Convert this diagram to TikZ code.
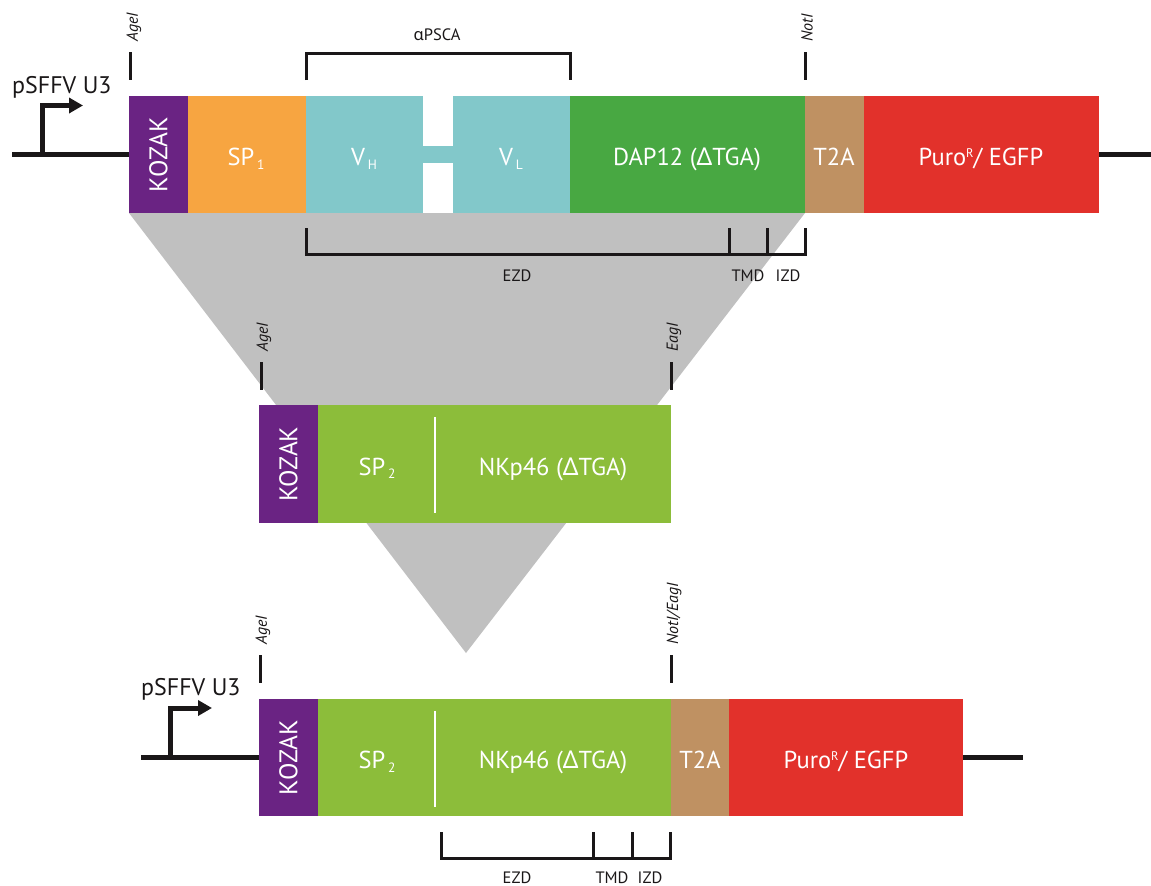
\documentclass[tikz,border=0pt]{standalone}
\usepackage{fontspec}
\setmainfont{PT Sans}
\newfontfamily\grk{Noto Sans}
\usetikzlibrary{arrows.meta}
\definecolor{kozakc}{HTML}{6A2383}
\definecolor{spc}{HTML}{F7A541}
\definecolor{vtealc}{HTML}{82C8CA}
\definecolor{dapc}{HTML}{48A842}
\definecolor{t2ac}{HTML}{BF9162}
\definecolor{puroc}{HTML}{E2312B}
\definecolor{nkc}{HTML}{8CBD3A}
\definecolor{trigray}{HTML}{C0C0C0}
\definecolor{ink}{HTML}{1A1718}
\newcommand\mysub[1]{\hspace{0.12em}\raisebox{-3.5pt}{\fontsize{13.5}{14}\selectfont #1}}
\newcommand\mysup[1]{\raisebox{8.5pt}{\fontsize{12.5}{13}\selectfont #1}}
\begin{document}
\begin{tikzpicture}[x=1pt,y=-1pt,
  box/.style={draw=none,inner sep=0,outer sep=0,anchor=north west},
  btext/.style={text=white,inner sep=0,anchor=base,font=\fontsize{24.5}{26}\selectfont},
  bb/.style={line width=5pt,ink},
  brk/.style={line width=3pt,ink},
  site/.style={font=\fontsize{16}{17}\selectfont\itshape,text=ink,rotate=90,anchor=west,inner sep=0},
  dom/.style={font=\fontsize{16.5}{17}\selectfont,text=ink,anchor=base,inner sep=0},
  prom/.style={font=\fontsize{24}{26}\selectfont,text=ink,anchor=base west,inner sep=0},
  kz/.style={text=white,inner sep=0,font=\fontsize{25.5}{27}\selectfont},
  divl/.style={white,line width=2.5pt}]
\useasboundingbox (0,0) rectangle (1151,886);
% gray funnel
\coordinate (apex) at (466,653);
\fill[trigray] (129,213) -- (805,213) -- (apex) -- cycle;
% ---------------- top row ----------------
\node[box,fill=kozakc,minimum width=59pt,minimum height=117pt] (kz1) at (129,96) {};
\node[box,fill=spc,minimum width=118pt,minimum height=117pt] (sp1) at (188,96) {};
\node[box,fill=vtealc,minimum width=117pt,minimum height=117pt] (vh) at (306,96) {};
\node[box,fill=vtealc,minimum width=30pt,minimum height=17pt] (lnk) at (423,146) {};
\node[box,fill=vtealc,minimum width=117pt,minimum height=117pt] (vl) at (453,96) {};
\node[box,fill=dapc,minimum width=235pt,minimum height=117pt] (dap) at (570,96) {};
\node[box,fill=t2ac,minimum width=59pt,minimum height=117pt] (t2a1) at (805,96) {};
\node[box,fill=puroc,minimum width=235pt,minimum height=117pt] (puro1) at (864,96) {};
\node[kz] (kz1t) at (kz1.center) {\rotatebox{90}{KOZAK}};
\node[btext] (sp1t) at (246,165.5) {SP\mysub{1}};
\node[btext] (vht) at (364,165.5) {V\mysub{H}};
\node[btext] (vlt) at (511,165.5) {V\mysub{L}};
\node[btext] (dapt) at (687,165.5) {DAP12 ({\grk Δ}TGA)};
\node[btext] (t2a1t) at (834,165.5) {T2A};
\node[btext] (puro1t) at (981,165.5) {Puro\mysup{R}/ EGFP};
% backbone & promoter
\coordinate (bbL1) at (12,154.5);
\coordinate (bbR1) at (1151,154.5);
\coordinate (pr1) at (42,154.5);
\coordinate (pr1t) at (83,105.5);
\draw[bb] (bbL1) -- (kz1.west);
\draw[bb] (puro1.east) -- (bbR1);
\draw[bb,-{Triangle[length=14pt,width=15pt]}] (pr1) |- (pr1t);
\node[prom] (prl1) at (12,93) {pSFFV U3};
% sites top
\draw[brk] (130,52) -- (130,80);
\node[site] (age1) at (134,42) {AgeI};
\draw[brk] (805,52) -- (805,80);
\node[site] (not1) at (807,42) {NotI};
% aPSCA bracket
\draw[brk] (306,80) |- (570,53) -- (570,80);
\node[dom] (apsca) at (437,40) {{\grk α}PSCA};
% EZD bracket top
\draw[brk] (306,228) |- (805,254.5) -- (805,228);
\draw[brk] (729,228) -- (729,254.5);
\draw[brk] (767,228) -- (767,254.5);
\node[dom] (ezd1) at (517,281) {EZD};
\node[dom] (tmd1) at (748,281) {TMD};
\node[dom] (izd1) at (788,281) {IZD};
% ---------------- middle row ----------------
\node[box,fill=kozakc,minimum width=59pt,minimum height=118pt] (kz2) at (259,405) {};
\node[box,fill=nkc,minimum width=353pt,minimum height=118pt] (nk2) at (318,405) {};
\node[kz] (kz2t) at (kz2.center) {\rotatebox{90}{KOZAK}};
\draw[divl] (435,417) -- (435,513);
\node[btext] (sp2t) at (377,475) {SP\mysub{2}};
\node[btext] (nk2t) at (553,475) {NKp46 ({\grk Δ}TGA)};
\draw[brk] (261,362) -- (261,390);
\node[site] (age2) at (264,352) {AgeI};
\draw[brk] (671,362) -- (671,390);
\node[site] (eag2) at (674,352) {EagI};
% ---------------- bottom row ----------------
\node[box,fill=kozakc,minimum width=59pt,minimum height=117pt] (kz3) at (259,699) {};
\node[box,fill=nkc,minimum width=353pt,minimum height=117pt] (nk3) at (318,699) {};
\node[box,fill=t2ac,minimum width=58pt,minimum height=117pt] (t2a3) at (671,699) {};
\node[box,fill=puroc,minimum width=234pt,minimum height=117pt] (puro3) at (729,699) {};
\node[kz] (kz3t) at (kz3.center) {\rotatebox{90}{KOZAK}};
\draw[divl] (435,711) -- (435,807);
\node[btext] (sp3t) at (377,768.5) {SP\mysub{2}};
\node[btext] (nk3t) at (553,768.5) {NKp46 ({\grk Δ}TGA)};
\node[btext] (t2a3t) at (700,768.5) {T2A};
\node[btext] (puro3t) at (846,768.5) {Puro\mysup{R}/ EGFP};
\coordinate (bbL3) at (141,757.5);
\coordinate (bbR3) at (1023,757.5);
\coordinate (pr3) at (170,757.5);
\coordinate (pr3t) at (212,708);
\draw[bb] (bbL3) -- (kz3.west);
\draw[bb] (puro3.east) -- (bbR3);
\draw[bb,-{Triangle[length=14pt,width=15pt]}] (pr3) |- (pr3t);
\node[prom] (prl3) at (141,695) {pSFFV U3};
\draw[brk] (260,655) -- (260,683);
\node[site] (age3) at (263,645) {AgeI};
\draw[brk] (671,655) -- (671,683);
\node[site] (noteag3) at (674,645) {NotI/EagI};
\draw[brk] (441,832) |- (670,858) -- (670,832);
\draw[brk] (593,832) -- (593,858);
\draw[brk] (632,832) -- (632,858);
\node[dom] (ezd3) at (517,883) {EZD};
\node[dom] (tmd3) at (612,883) {TMD};
\node[dom] (izd3) at (650,883) {IZD};
\end{tikzpicture}
\end{document}
